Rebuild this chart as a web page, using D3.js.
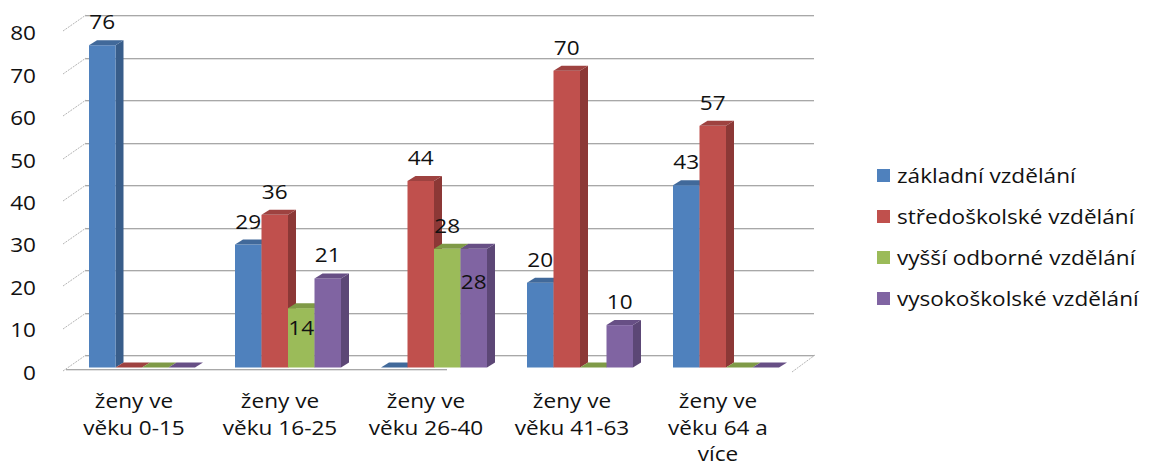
<!DOCTYPE html>
<html><head><meta charset="utf-8">
<script src="https://cdn.jsdelivr.net/npm/d3@7"></script>
<style>body{margin:0;background:#fff}svg{display:block}text{font-family:"Open Sans",sans-serif;fill:#111}</style>
</head><body>
<svg id="c" width="1153" height="468"></svg>
<script>
const categories = ["ženy ve\nvěku 0-15","ženy ve\nvěku 16-25","ženy ve\nvěku 26-40","ženy ve\nvěku 41-63","ženy ve\nvěku 64 a\nvíce"];
const seriesNames = ["základní vzdělání","středoškolské vzdělání","vyšší odborné vzdělání","vysokoškolské vzdělání"];
const zakladni = [76,29,0,20,43];
const stredoskolske = [0,36,44,70,57];
const vyssiOdborne = [0,14,28,0,0];
const vysokoskolske = [0,21,28,10,0];
const yTicks = [0,10,20,30,40,50,60,70,80];

const values = [zakladni, stredoskolske, vyssiOdborne, vysokoskolske];
const front = ["#4F81BD","#C0504D","#9BBB59","#8064A2"];
const side  = ["#385D8A","#8C3836","#71893F","#5C4776"];
const top_  = ["#41699A","#9E4240","#7F9A47","#674F85"];
// label nudges (Excel collision placement)
const labelNudge = {"2-1": 42.5, "3-2": 56.5};

const SX = 1.13, FS = 20;
const svg = d3.select("#c");
const yF = d3.scaleLinear().domain([0,80]).range([367.5, 367.5-80*4.24]);
const yB = d3.scaleLinear().domain([0,80]).range([355, 355-80*4.25]);
const x0 = d3.scaleBand().domain(categories).range([69, 799]);
const x1 = d3.scaleBand().domain(d3.range(4)).range([20, 126]);
const DX = 8, DY = -5;

function txt(g, x, y, s, anchor, size){
  return g.append("text").attr("transform",`translate(${x},${y}) scale(${SX},1)`)
    .attr("text-anchor",anchor||"middle").style("font-size",(size||FS)+"px").text(s);
}

// back wall gridlines
const grid = svg.append("g");
yTicks.forEach(v=>{
  const y = Math.round(yB(v));
  grid.append("line").attr("x1",85).attr("x2",814).attr("y1",y+0.5).attr("y2",y+0.5).attr("stroke","#a8a8a8");
  grid.append("line").attr("x1",85).attr("x2",814).attr("y1",y+1.5).attr("y2",y+1.5).attr("stroke","#e2e2e2");
  grid.append("line").attr("x1",63).attr("y1",y+16).attr("x2",86).attr("y2",y)
    .attr("stroke","#b5b5b5").attr("stroke-dasharray","2,1");
});
// floor edges
grid.append("line").attr("x1",66).attr("x2",447).attr("y1",369.5).attr("y2",369.5).attr("stroke","#a8a8a8");
grid.append("line").attr("x1",66).attr("x2",447).attr("y1",370.5).attr("y2",370.5).attr("stroke","#e2e2e2");
grid.append("line").attr("x1",792).attr("y1",372).attr("x2",815).attr("y2",355)
  .attr("stroke","#b5b5b5").attr("stroke-dasharray","2,1");

// bars
const bars = svg.append("g");
categories.forEach((c,ci)=>{
  values.forEach((arr,si)=>{
    const v = arr[ci];
    const x = x0(c)+x1(si), w = x1.bandwidth();
    const yt = yF(v), yb = yF(0);
    const g = bars.append("g");
    if (v>0){
      g.append("polygon").attr("points",[[x+w,yt],[x+w+DX,yt+DY],[x+w+DX,yb+DY],[x+w,yb]].join(" ")).attr("fill",side[si]);
      g.append("rect").attr("x",x).attr("y",yt).attr("width",w).attr("height",yb-yt).attr("fill",front[si]);
    }
    g.append("polygon").attr("points",[[x,yt],[x+DX,yt+DY],[x+w+DX,yt+DY],[x+w,yt]].join(" ")).attr("fill",top_[si]);
  });
});

// data labels
const labels = svg.append("g");
categories.forEach((c,ci)=>{
  values.forEach((arr,si)=>{
    const v = arr[ci]; if(!v) return;
    const x = x0(c)+x1(si)+x1.bandwidth()/2;
    const yc = yF(v) - 23.5 + (labelNudge[si+"-"+ci]||0);
    txt(labels, x, yc+7.5, String(v));
  });
});

// y axis labels
const yax = svg.append("g");
yTicks.forEach(v=> txt(yax, 36, yF(v)+4.5+7.5, String(v), "end"));

// category labels
const xax = svg.append("g");
categories.forEach(c=>{
  const cx = x0(c)+x0.bandwidth()/2-8;
  c.split("\n").forEach((line,li)=> txt(xax, cx, 408+li*26.5, line));
});

// legend
const leg = svg.append("g");
seriesNames.forEach((n,i)=>{
  const yc = 176 + i*41;
  leg.append("rect").attr("x",877).attr("y",yc-7).attr("width",13).attr("height",13).attr("fill",front[i]);
  txt(leg, 897, yc+7, n, "start");
});
</script>
</body></html>
